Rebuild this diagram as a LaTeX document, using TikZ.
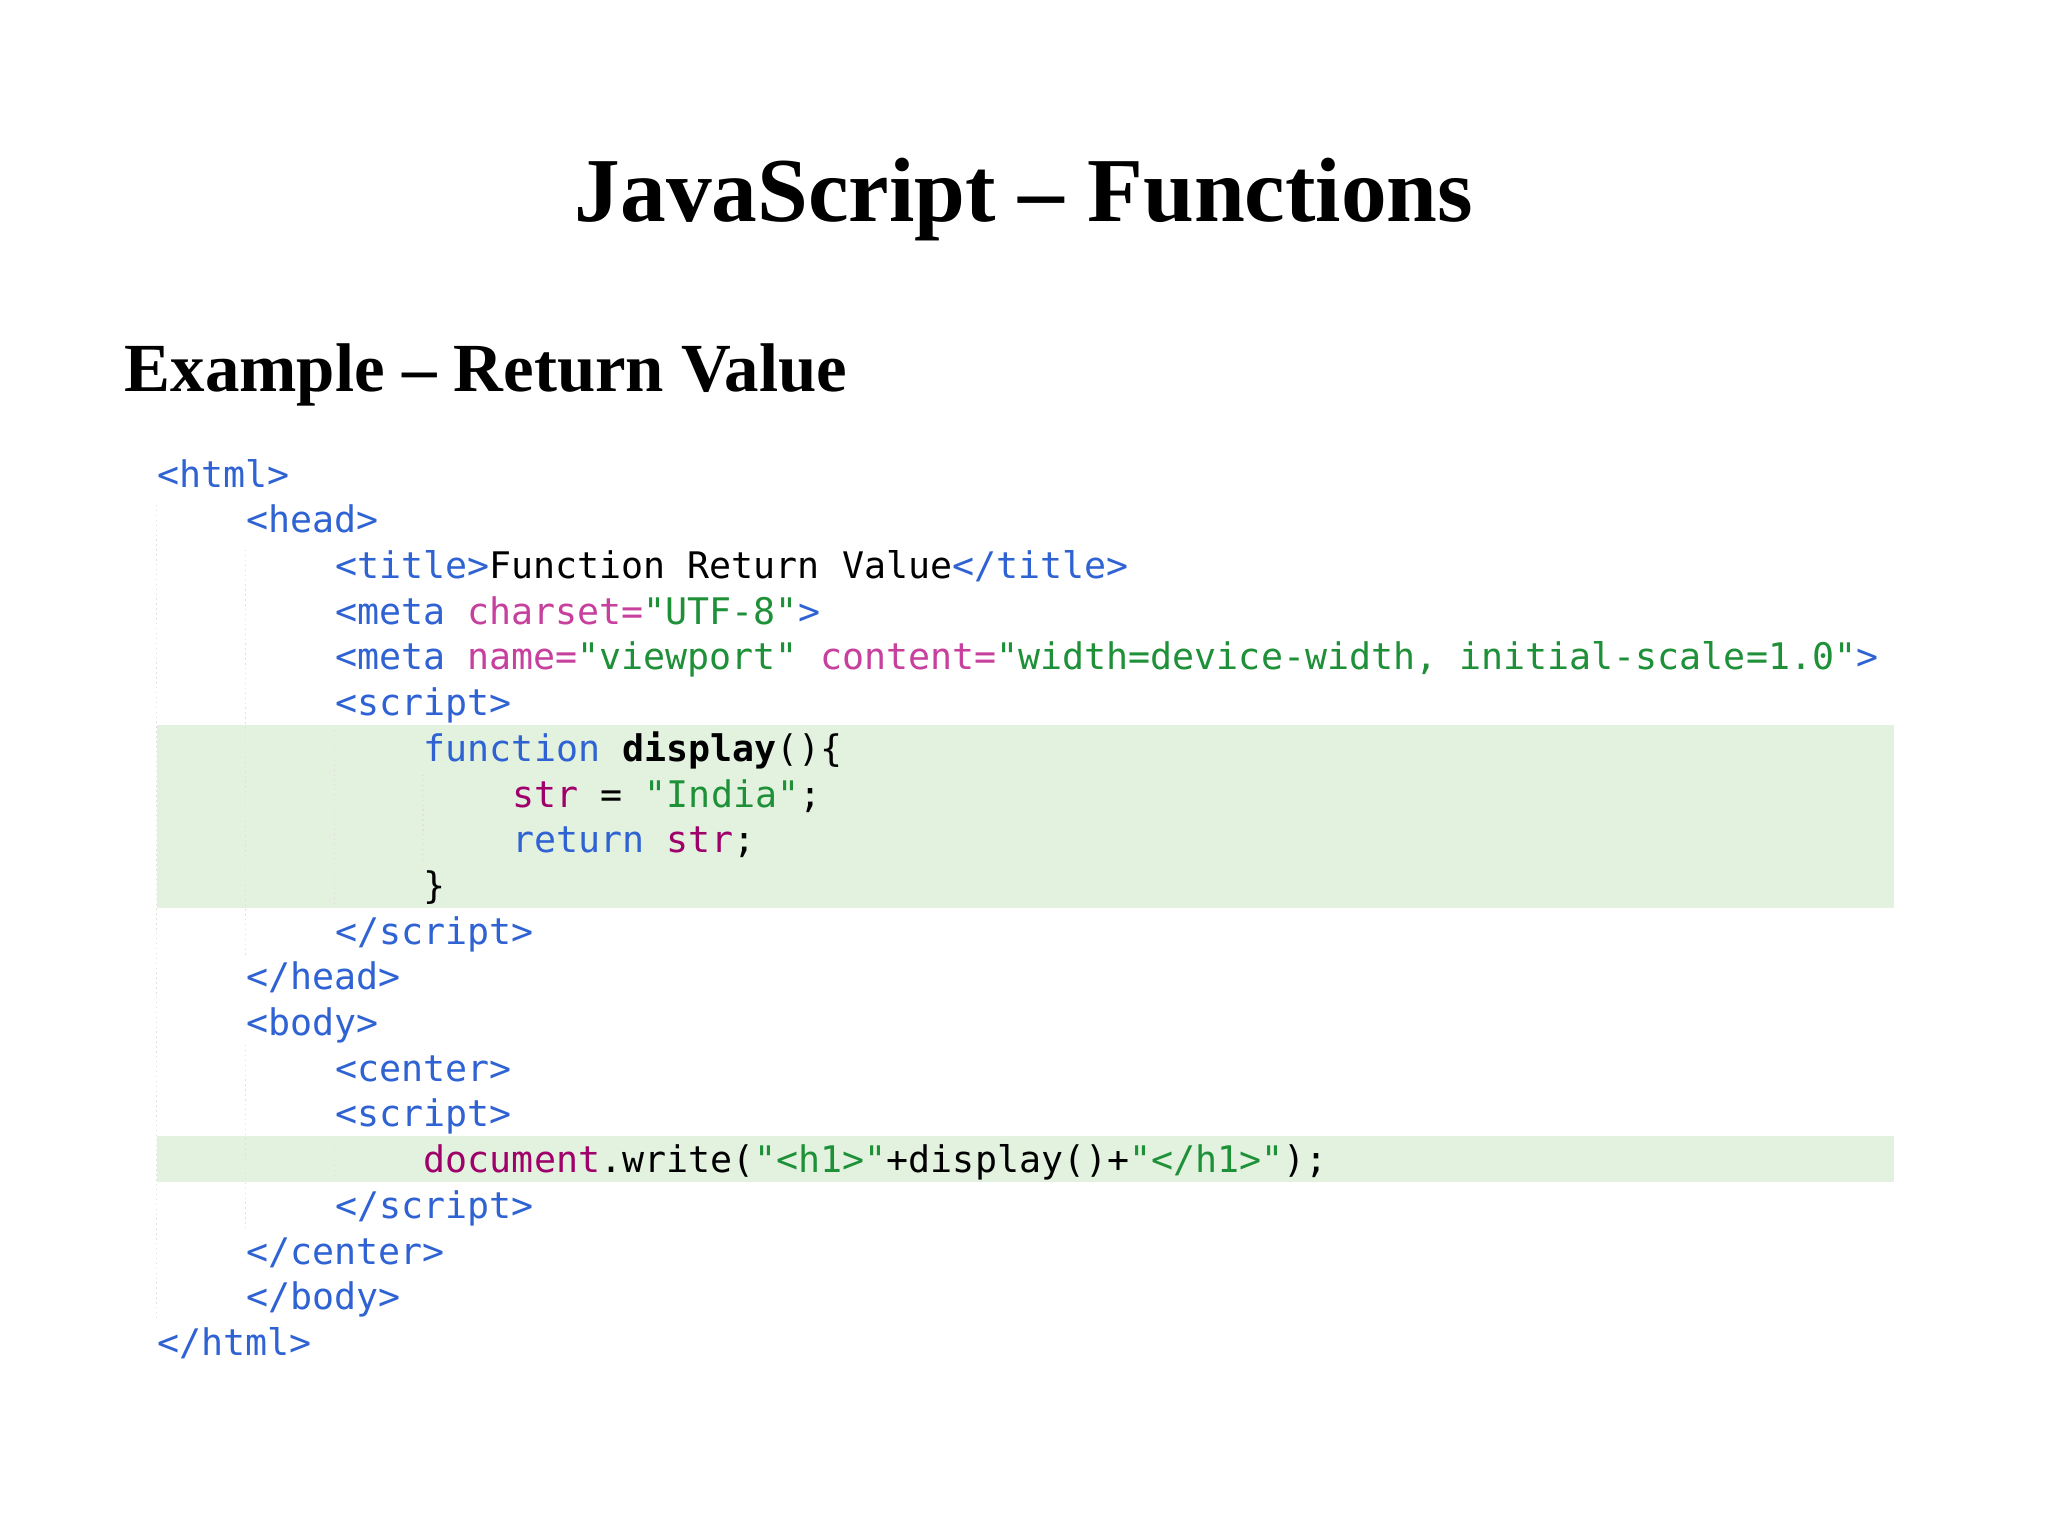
\documentclass[tikz,border=0pt]{standalone}
\usepackage{fontspec}
\setmainfont{Liberation Serif}
\setmonofont{DejaVu Sans Mono}
\definecolor{tg}{HTML}{2F62D2}
\definecolor{at}{HTML}{C8409E}
\definecolor{st}{HTML}{1E9038}
\definecolor{vr}{HTML}{A0006A}
\definecolor{band}{HTML}{E2F2DF}
\newcommand{\T}[1]{\textcolor{tg}{#1}}
\newcommand{\A}[1]{\textcolor{at}{#1}}
\newcommand{\Sg}[1]{\textcolor{st}{#1}}
\newcommand{\V}[1]{\textcolor{vr}{#1}}
\begin{document}
\begin{tikzpicture}[x=1cm,y=1cm,
  code/.style={anchor=base west,inner sep=0pt,font=\ttfamily\fontsize{10.42pt}{12pt}\selectfont},
  guide/.style={draw=black!12,line width=0.4pt,densely dotted}]
\useasboundingbox[fill=white] (0,0) rectangle (20.48,-15.36);
\fill[band] (1.567,-7.248) rectangle (18.94,-9.077);
\fill[band] (1.567,-11.36) rectangle (18.94,-11.82);
\def\xa{1.567}
\def\dx{0.888}
\draw[guide] (\xa,-5.05) -- (\xa,-13.2);
\draw[guide] (\xa+\dx,-5.5) -- (\xa+\dx,-9.55);
\draw[guide] (\xa+\dx,-10.45) -- (\xa+\dx,-12.3);
\draw[guide] (\xa+2*\dx,-7.3) -- (\xa+2*\dx,-9.05);
\draw[guide] (\xa+2*\dx,-11.4) -- (\xa+2*\dx,-11.8);
\draw[guide] (\xa+3*\dx,-7.75) -- (\xa+3*\dx,-8.6);
\node[anchor=base,inner sep=0pt,font=\bfseries\fontsize{26pt}{30pt}\selectfont] (title) at (10.24,-2.22) {JavaScript – Functions};
\node[anchor=base west,inner sep=0pt,font=\bfseries\fontsize{19.6pt}{23pt}\selectfont] (sub) at (1.24,-3.92) {Example – Return Value};
\foreach \i/\ind/\txt in {
 0/0/{\T{<html>}},
 1/1/{\T{<head>}},
 2/2/{\T{<title>}Function Return Value\T{</title>}},
 3/2/{\T{<meta} \A{charset=}\Sg{"UTF-8"}\T{>}},
 4/2/{\T{<meta} \A{name=}\Sg{"viewport"} \A{content=}\Sg{"width=device-width, initial-scale=1.0"}\T{>}},
 5/2/{\T{<script>}},
 6/3/{\T{function} \textbf{display}()\{},
 7/4/{\V{str} = \Sg{"India"};},
 8/4/{\T{return} \V{str};},
 9/3/{\}},
 10/2/{\T{</script>}},
 11/1/{\T{</head>}},
 12/1/{\T{<body>}},
 13/2/{\T{<center>}},
 14/2/{\T{<script>}},
 15/3/{\V{document}.write(\Sg{"<h1>"}+display()+\Sg{"</h1>"});},
 16/2/{\T{</script>}},
 17/1/{\T{</center>}},
 18/1/{\T{</body>}},
 19/0/{\T{</html>}}}
 {\node[code] (l\i) at (\xa+\ind*\dx,-4.871-0.457*\i) {\txt};}
\end{tikzpicture}
\end{document}
